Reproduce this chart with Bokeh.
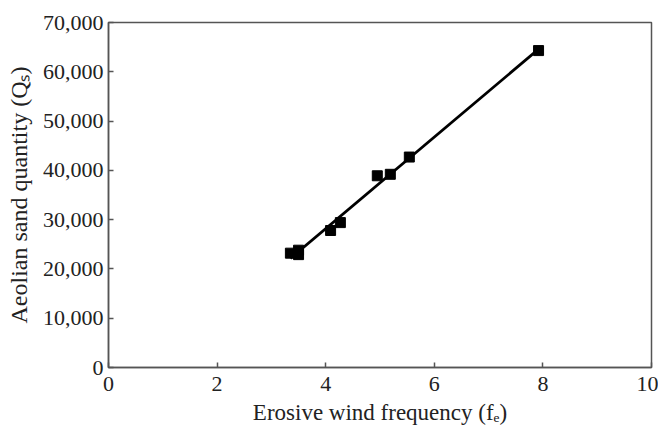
import numpy as np
from bokeh.plotting import figure
from bokeh.models import Range1d, FixedTicker, NumeralTickFormatter
from bokeh.embed import file_html
from bokeh.resources import INLINE

# Data
fe = [3.35, 3.50, 3.50, 4.09, 4.27, 4.95, 5.19, 5.54, 7.92]
qs = [23200, 23800, 22900, 27800, 29400, 38900, 39200, 42700, 64300]

x_ticks = [0, 2, 4, 6, 8, 10]
y_ticks = [0, 10000, 20000, 30000, 40000, 50000, 60000, 70000]

# linear fit line
slope, intercept = np.polyfit(fe, qs, 1)
fit_x = [min(fe), max(fe)]
fit_y = [slope * v + intercept for v in fit_x]

p = figure(width=658, height=438, output_backend="svg", toolbar_location=None,
           x_range=Range1d(0, 10), y_range=Range1d(0, 70000),
           min_border_left=108, min_border_top=22, min_border_right=7, min_border_bottom=71)

p.line(fit_x, fit_y, line_color="black", line_width=2.8)
p.scatter(fe, qs, marker="square", size=10, color="black")

p.grid.visible = False
p.outline_line_color = "#555555"
p.outline_line_width = 1.5
p.background_fill_color = "white"
p.border_fill_color = "white"

font = "Liberation Serif"
for ax in (p.xaxis[0], p.yaxis[0]):
    ax.major_tick_in = 5
    ax.major_tick_out = 0
    ax.minor_tick_in = 0
    ax.minor_tick_out = 0
    ax.axis_line_color = "#555555"
    ax.axis_line_width = 1.5
    ax.major_tick_line_color = "#555555"
    ax.major_tick_line_width = 1.5
    ax.major_label_text_font = font
    ax.major_label_text_font_size = "22px"
    ax.major_label_text_color = "#222222"
    ax.axis_label_text_font = font
    ax.axis_label_text_font_size = "23px"
    ax.axis_label_text_font_style = "normal"
    ax.axis_label_text_color = "#222222"

p.yaxis[0].axis_label_text_font_size = "24px"
p.xaxis[0].ticker = FixedTicker(ticks=x_ticks)
p.yaxis[0].ticker = FixedTicker(ticks=y_ticks)
p.yaxis[0].formatter = NumeralTickFormatter(format="0,0")
p.xaxis[0].major_label_standoff = 9
p.yaxis[0].major_label_standoff = 5
p.xaxis[0].axis_label = "Erosive wind frequency (fₑ)"
p.yaxis[0].axis_label = "Aeolian sand quantity (Qₛ)"
p.xaxis[0].axis_label_standoff = 6
p.yaxis[0].axis_label_standoff = 8

open("out.html", "w").write(file_html(p, INLINE))
